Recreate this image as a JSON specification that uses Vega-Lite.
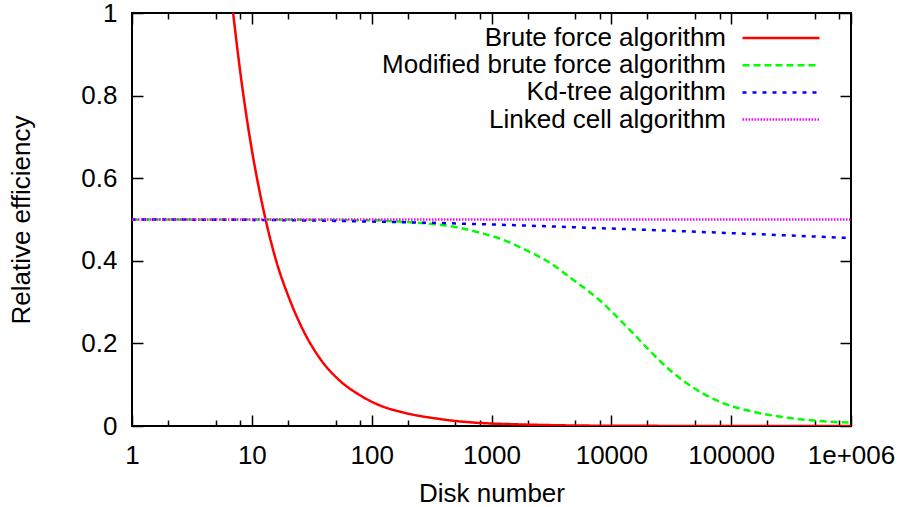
{
  "$schema": "https://vega.github.io/schema/vega-lite/v6.json",
  "width": 719,
  "height": 413,
  "autosize": {"type": "none"},
  "padding": {"left": 132, "top": 13, "right": 52, "bottom": 81},
  "background": "white",
  "config": {
    "view": {"stroke": "black", "strokeWidth": 2},
    "font": "Liberation Sans",
    "axis": {"grid": false, "domain": false, "labelFontSize": 26, "labelColor": "black", "tickColor": "black", "tickWidth": 1.5, "titleFontSize": 26, "titleFontWeight": "normal", "titleColor": "black"}
  },
  "data": {"values": [
    {"series": "Brute force algorithm", "n": 6.98, "v": 1.0},
    {"series": "Brute force algorithm", "n": 8.1, "v": 0.846},
    {"series": "Brute force algorithm", "n": 9.8, "v": 0.684},
    {"series": "Brute force algorithm", "n": 11.7, "v": 0.563},
    {"series": "Brute force algorithm", "n": 13.1, "v": 0.497},
    {"series": "Brute force algorithm", "n": 15.6, "v": 0.41},
    {"series": "Brute force algorithm", "n": 20.7, "v": 0.306},
    {"series": "Brute force algorithm", "n": 26.8, "v": 0.232},
    {"series": "Brute force algorithm", "n": 36.9, "v": 0.164},
    {"series": "Brute force algorithm", "n": 54.1, "v": 0.11},
    {"series": "Brute force algorithm", "n": 79.4, "v": 0.075},
    {"series": "Brute force algorithm", "n": 116.7, "v": 0.05},
    {"series": "Brute force algorithm", "n": 182, "v": 0.033},
    {"series": "Brute force algorithm", "n": 369, "v": 0.017},
    {"series": "Brute force algorithm", "n": 1000, "v": 0.006},
    {"series": "Brute force algorithm", "n": 10000, "v": 0.0006},
    {"series": "Brute force algorithm", "n": 100000, "v": 0.0001},
    {"series": "Brute force algorithm", "n": 1000000, "v": 0.0},
    {"series": "Modified brute force algorithm", "n": 1, "v": 0.5},
    {"series": "Modified brute force algorithm", "n": 10, "v": 0.5},
    {"series": "Modified brute force algorithm", "n": 100, "v": 0.498},
    {"series": "Modified brute force algorithm", "n": 170, "v": 0.495},
    {"series": "Modified brute force algorithm", "n": 300, "v": 0.49},
    {"series": "Modified brute force algorithm", "n": 450, "v": 0.484},
    {"series": "Modified brute force algorithm", "n": 850, "v": 0.466},
    {"series": "Modified brute force algorithm", "n": 1170, "v": 0.454},
    {"series": "Modified brute force algorithm", "n": 1880, "v": 0.428},
    {"series": "Modified brute force algorithm", "n": 3040, "v": 0.396},
    {"series": "Modified brute force algorithm", "n": 4760, "v": 0.355},
    {"series": "Modified brute force algorithm", "n": 7940, "v": 0.305},
    {"series": "Modified brute force algorithm", "n": 10300, "v": 0.274},
    {"series": "Modified brute force algorithm", "n": 15000, "v": 0.226},
    {"series": "Modified brute force algorithm", "n": 20000, "v": 0.188},
    {"series": "Modified brute force algorithm", "n": 32400, "v": 0.13},
    {"series": "Modified brute force algorithm", "n": 54100, "v": 0.084},
    {"series": "Modified brute force algorithm", "n": 90300, "v": 0.053},
    {"series": "Modified brute force algorithm", "n": 150600, "v": 0.035},
    {"series": "Modified brute force algorithm", "n": 251000, "v": 0.023},
    {"series": "Modified brute force algorithm", "n": 419000, "v": 0.015},
    {"series": "Modified brute force algorithm", "n": 698000, "v": 0.01},
    {"series": "Modified brute force algorithm", "n": 1000000, "v": 0.008},
    {"series": "Kd-tree algorithm", "n": 1, "v": 0.5},
    {"series": "Kd-tree algorithm", "n": 10, "v": 0.499},
    {"series": "Kd-tree algorithm", "n": 100, "v": 0.495},
    {"series": "Kd-tree algorithm", "n": 1000, "v": 0.488},
    {"series": "Kd-tree algorithm", "n": 10000, "v": 0.478},
    {"series": "Kd-tree algorithm", "n": 100000, "v": 0.467},
    {"series": "Kd-tree algorithm", "n": 1000000, "v": 0.455},
    {"series": "Linked cell algorithm", "n": 1, "v": 0.5},
    {"series": "Linked cell algorithm", "n": 1000000, "v": 0.5}
  ]},
  "layer": [
    {
      "mark": {"type": "line", "clip": true, "strokeWidth": 2.5, "interpolate": "monotone"},
      "encoding": {
        "x": {"field": "n", "type": "quantitative", "scale": {"type": "log", "domain": [1, 1000000]},
          "axis": {"orient": "bottom", "title": "Disk number", "values": [1,2,5,8,10,20,50,80,100,200,500,800,1000,2000,5000,8000,10000,20000,50000,80000,100000,200000,500000,800000,1000000],
            "labelExpr": "indexof([1,10,100,1000,10000,100000,1000000], datum.value) < 0 ? '' : (datum.value == 1000000 ? '1e+006' : format(datum.value, 'd'))",
            "tickSize": {"condition": {"test": "indexof([1,10,100,1000,10000,100000,1000000], datum.value) >= 0", "value": -11}, "value": -6},
            "labelPadding": 27, "titlePadding": 12, "labelFlush": false}},
        "y": {"field": "v", "type": "quantitative", "scale": {"domain": [0, 1]},
          "axis": {"orient": "left", "title": "Relative efficiency", "values": [0, 0.2, 0.4, 0.6, 0.8, 1], "labelExpr": "datum.value + ''", "tickSize": -11, "labelPadding": 26, "titlePadding": 46}},
        "color": {"field": "series", "type": "nominal",
          "scale": {"domain": ["Brute force algorithm", "Modified brute force algorithm", "Kd-tree algorithm", "Linked cell algorithm"], "range": ["#ff0000", "#00ff00", "#0000ff", "#ff00ff"]},
          "legend": {"title": null, "orient": "none", "legendX": 636, "legendY": 12, "symbolType": "M-3.5,0H3.5", "symbolSize": 484, "symbolStrokeWidth": 2.5, "labelAlign": "right", "labelOffset": -68, "labelFontSize": 26, "labelColor": "black", "labelLimit": 500, "rowPadding": 1.2}},
        "strokeDash": {"field": "series", "type": "nominal",
          "scale": {"domain": ["Brute force algorithm", "Modified brute force algorithm", "Kd-tree algorithm", "Linked cell algorithm"], "range": [[1, 0], [7, 4], [4, 6], [1.5, 1.5]]},
          "legend": {"title": null, "orient": "none", "legendX": 636, "legendY": 12, "symbolType": "M-3.5,0H3.5", "symbolSize": 484, "symbolStrokeWidth": 2.5, "labelAlign": "right", "labelOffset": -68, "labelFontSize": 26, "labelColor": "black", "labelLimit": 500, "rowPadding": 1.2}}
      }
    },
    {
      "mark": {"type": "point", "opacity": 0},
      "encoding": {
        "x": {"field": "n", "type": "quantitative", "scale": {"type": "log", "domain": [1, 1000000]},
          "axis": {"orient": "top", "title": null, "labels": false, "values": [1,2,5,8,10,20,50,80,100,200,500,800,1000,2000,5000,8000,10000,20000,50000,80000,100000,200000,500000,800000,1000000],
            "tickSize": {"condition": {"test": "indexof([1,10,100,1000,10000,100000,1000000], datum.value) >= 0", "value": -11}, "value": -6}}},
        "y": {"field": "v", "type": "quantitative", "scale": {"domain": [0, 1]},
          "axis": {"orient": "right", "title": null, "labels": false, "values": [0, 0.2, 0.4, 0.6, 0.8, 1], "tickSize": -11}}
      }
    }
  ],
  "resolve": {"axis": {"x": "independent", "y": "independent"}}
}
